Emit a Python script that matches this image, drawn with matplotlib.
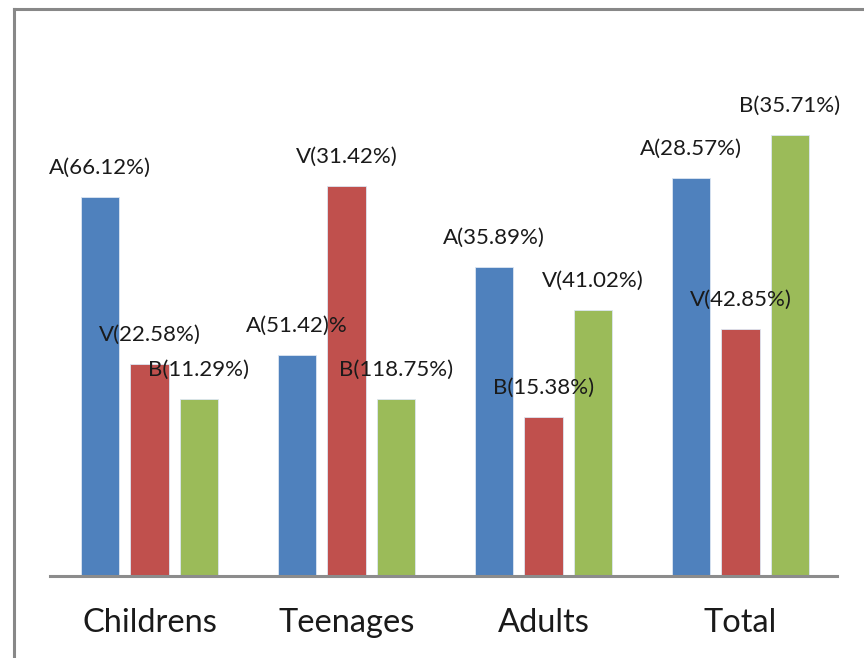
import matplotlib
matplotlib.use('Agg')
import matplotlib.pyplot as plt
from matplotlib.lines import Line2D
import numpy as np

plt.rcParams['font.family'] = ['Lato', 'DejaVu Sans']

categories = ['Childrens', 'Teenages', 'Adults', 'Total']
# bar heights (arbitrary units, no value axis shown)
blue_vals = [37.9, 22.1, 30.9, 39.8]
red_vals = [21.2, 39.0, 15.9, 24.7]
green_vals = [17.7, 17.7, 26.6, 44.1]
blue_labels = ['A(66.12%)', 'A(51.42)%', 'A(35.89%)', 'A(28.57%)']
red_labels = ['V(22.58%)', 'V(31.42%)', 'B(15.38%)', 'V(42.85%)']
green_labels = ['B(11.29%)', 'B(118.75%)', 'V(41.02%)', 'B(35.71%)']

colors = ['#4F81BD', '#C0504D', '#9BBB59']

fig = plt.figure(figsize=(8.64, 6.58), dpi=100)
ax = fig.add_axes([50 / 864, (658 - 576) / 658, (837 - 50) / 864, 546 / 658])

x = np.arange(len(categories))
width = 0.195
offset = 0.25
series = [(blue_vals, blue_labels), (red_vals, red_labels), (green_vals, green_labels)]
for i, (vals, labels) in enumerate(series):
    pos = x + (i - 1) * offset
    ax.bar(pos, vals, width=width, color=colors[i], edgecolor='#dce6f2', linewidth=0.6, zorder=2)
    for px, v, lab in zip(pos, vals, labels):
        ax.annotate(lab, (px, v), xytext=(0, 21), textcoords='offset points',
                    ha='center', va='center', fontsize=16, color='#1a1a1a', zorder=3)

ax.set_xlim(-0.505, 3.49)
ax.set_ylim(0, 54.6)
ax.set_yticks([])
ax.set_xticks(x)
ax.set_xticklabels(categories, fontsize=23.5, color='#1a1a1a')
ax.tick_params(axis='x', length=0, pad=23)
for s in ['top', 'right', 'left']:
    ax.spines[s].set_visible(False)
ax.spines['bottom'].set_color('#8c8c8c')
ax.spines['bottom'].set_linewidth(2.2)

# outer frame (left and top edges visible)
fig.add_artist(Line2D([13.5 / 864, 13.5 / 864], [0, 1 - 8.5 / 658], transform=fig.transFigure,
                      color='#888888', linewidth=2.2))
fig.add_artist(Line2D([13.5 / 864, 1], [1 - 8.5 / 658, 1 - 8.5 / 658], transform=fig.transFigure,
                      color='#888888', linewidth=2.2))

fig.savefig('out.png', dpi=100)
